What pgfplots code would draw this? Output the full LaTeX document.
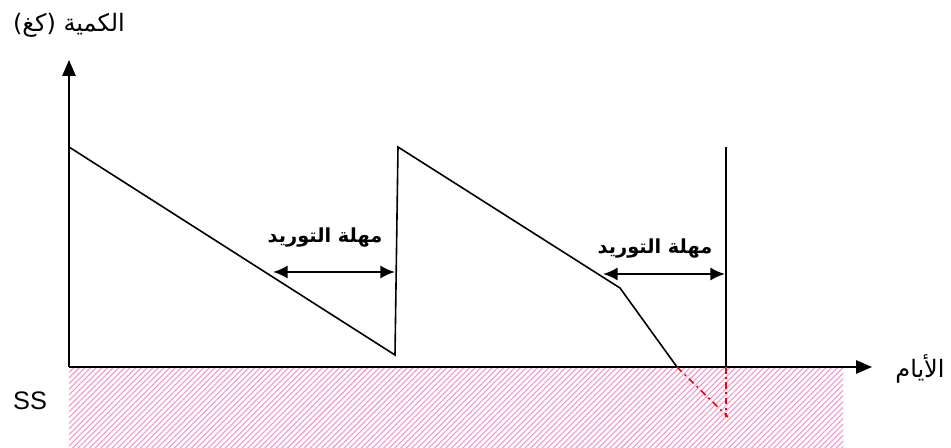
\documentclass[border=0pt]{standalone}
\usepackage{pgfplots}
\pgfplotsset{compat=1.18}
\usepackage{fontspec}
\usetikzlibrary{patterns.meta,arrows.meta}
\TeXXeTstate=1
\setmainfont{Liberation Sans}
\newfontfamily\arabicfont[Script=Arabic]{DejaVu Sans}
\definecolor{hatchpink}{RGB}{240,150,205}
\begin{document}
\begin{tikzpicture}
\begin{axis}[
  width=713.25pt, height=335.25pt, scale only axis,
  xmin=-69, xmax=882, ymin=-80, ymax=367,
  hide axis, clip=false,
]
% safety stock hatched band
\addplot[draw=none, pattern={Lines[angle=45,distance=3pt,line width=0.8pt]}, pattern color=hatchpink]
  coordinates {(0,-1) (774,-1) (774,-80) (0,-80) (0,-1)};
% axes
\addplot[black, line width=1.4pt, -{Triangle[length=12pt,width=10pt]}] coordinates {(0,0) (0,307)};
\addplot[black, line width=1.4pt, -{Triangle[length=12pt,width=10pt]}] coordinates {(0,0) (803,0)};
% inventory curve
\addplot[black, line width=1.2pt] coordinates {(0,220) (326,12) (329,220) (551,79) (608,0)};
\addplot[black, line width=1.2pt] coordinates {(657,220) (657,0)};
% shortage (red)
\addplot[red, line width=1.2pt, dash pattern=on 5pt off 3pt on 1.5pt off 3pt] coordinates {(608,0) (659,-50)};
\addplot[red, line width=1.2pt, dash pattern=on 5pt off 2.5pt on 1.5pt off 2.5pt] coordinates {(657,0) (657,-50)};
% lead time arrows
\addplot[black, line width=1.8pt, {Latex[length=11pt,width=10pt]}-{Latex[length=11pt,width=10pt]}] coordinates {(204,95) (326,95)};
\addplot[black, line width=1.8pt, {Latex[length=11pt,width=10pt]}-{Latex[length=11pt,width=10pt]}] coordinates {(534,93) (656,93)};
% labels
\node[font=\arabicfont\bfseries\fontsize{14.5}{16}\selectfont] at (axis cs:256,129) {\beginR مهلة التوريد\endR};
\node[font=\arabicfont\bfseries\fontsize{14.5}{16}\selectfont] at (axis cs:586,118) {\beginR مهلة التوريد\endR};
\node[font=\arabicfont\fontsize{18}{20}\selectfont] at (axis cs:0,342) {\beginR الكمية (كغ)\endR};
\node[font=\arabicfont\fontsize{18}{20}\selectfont] at (axis cs:851,-2) {\beginR الأيام\endR};
\node[font=\fontsize{19}{22}\selectfont] at (axis cs:-39,-34) {SS};
\end{axis}
\pgfresetboundingbox
\path (current axis.south west) rectangle (current axis.north east);
\end{tikzpicture}
\end{document}
